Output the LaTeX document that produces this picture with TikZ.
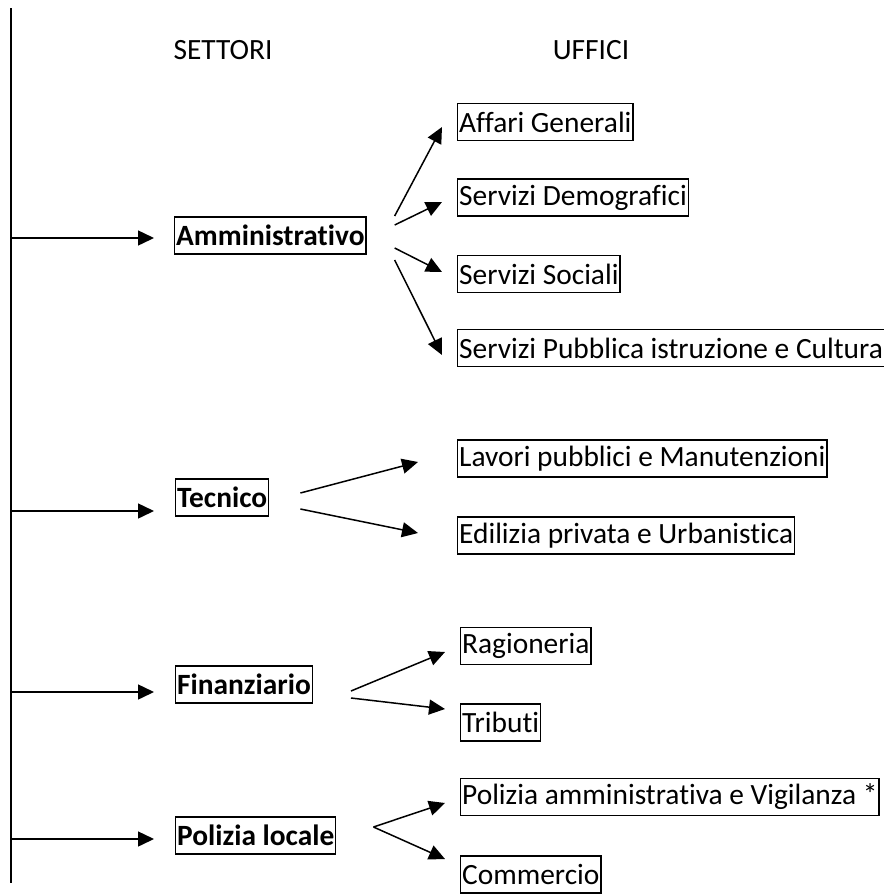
\documentclass[tikz,border=0pt]{standalone}
\usepackage{fontspec}
\setmainfont{Carlito}[RawFeature={-liga}]
\usetikzlibrary{arrows.meta,calc}
\begin{document}
\begin{tikzpicture}[x=1pt,y=-1pt,
  every node/.style={font=\fontsize{29.4}{34}\selectfont},
  ufbox/.style={draw,line width=1.3pt,inner xsep=1.5pt,inner ysep=0pt,minimum height=37pt,anchor=west},
  setbox/.style={ufbox,font=\fontsize{29.4}{34}\selectfont\bfseries},
  arr/.style={line width=1.5pt,-{Triangle[length=16pt,width=15pt]}},
  plain/.style={inner sep=0pt}]
\useasboundingbox (0,0) rectangle (884,895);
% vertical spine
\coordinate (top) at (11,8);
\coordinate (bot) at (11,883);
\draw[line width=1.5pt] (top) -- (bot);
% headings
\node[plain] (settori) at (223,50) {SETTORI};
\node[plain] (uffici) at (591,50) {UFFICI};
% sectors
\node[setbox] (amm) at (174,235.5) {Amministrativo};
\node[setbox] (tec) at (175,497.5) {Tecnico};
\node[setbox] (fin) at (175,684.5) {Finanziario};
\node[setbox] (pol) at (175,835.5) {Polizia locale};
% offices
\node[ufbox] (aff) at (457,122) {Affari Generali};
\node[ufbox] (dem) at (457,197.5) {Servizi Demografici};
\node[ufbox] (soc) at (457,274) {Servizi Sociali};
\node[ufbox] (pub) at (457,348) {Servizi Pubblica istruzione e Cultura};
\node[ufbox] (lav) at (457,458.5) {Lavori pubblici e Manutenzioni};
\node[ufbox] (edi) at (457,535.5) {Edilizia privata e Urbanistica};
\node[ufbox] (rag) at (460,646) {Ragioneria};
\node[ufbox] (tri) at (460,722.5) {Tributi};
\node[ufbox] (vig) at (460,797) {Polizia amministrativa e Vigilanza *};
\node[ufbox] (com) at (460,874.5) {Commercio};
% spine to sectors
\coordinate (sa) at (11,238);
\coordinate (st) at (11,511);
\coordinate (sf) at (11,692);
\coordinate (sp) at (11,839);
\draw[arr] (sa) -- ($(amm.west)+(-20,2.5)$);
\draw[arr] (st) -- ($(tec.west)+(-21,13.5)$);
\draw[arr] (sf) -- ($(fin.west)+(-21,7.5)$);
\draw[arr] (sp) -- ($(pol.west)+(-21,3.5)$);
% Amministrativo -> offices
\draw[arr] ($(amm.east)+(28,-19.5)$) -- ($(aff.west)+(-15,5)$);
\draw[arr] ($(amm.east)+(28,-10.5)$) -- ($(dem.west)+(-15,4.5)$);
\draw[arr] ($(amm.east)+(28,12.5)$) -- ($(soc.west)+(-15,-2)$);
\draw[arr] ($(amm.east)+(28,24.5)$) -- ($(pub.west)+(-15,7)$);
% Tecnico -> offices
\draw[arr] ($(tec.east)+(31,-4.5)$) -- ($(lav.west)+(-39,3.5)$);
\draw[arr] ($(tec.east)+(31,11.5)$) -- ($(edi.west)+(-39,-2.5)$);
% Finanziario -> offices
\draw[arr] ($(fin.east)+(38,6.5)$) -- ($(rag.west)+(-15,6)$);
\draw[arr] ($(fin.east)+(38,13.5)$) -- ($(tri.west)+(-15,-13.5)$);
% Polizia locale -> offices
\coordinate (pfork) at ($(pol.east)+(37,-8.5)$);
\draw[arr] (pfork) -- ($(vig.west)+(-15,6)$);
\draw[arr] (pfork) -- ($(com.west)+(-15,-15.5)$);
\end{tikzpicture}
\end{document}
